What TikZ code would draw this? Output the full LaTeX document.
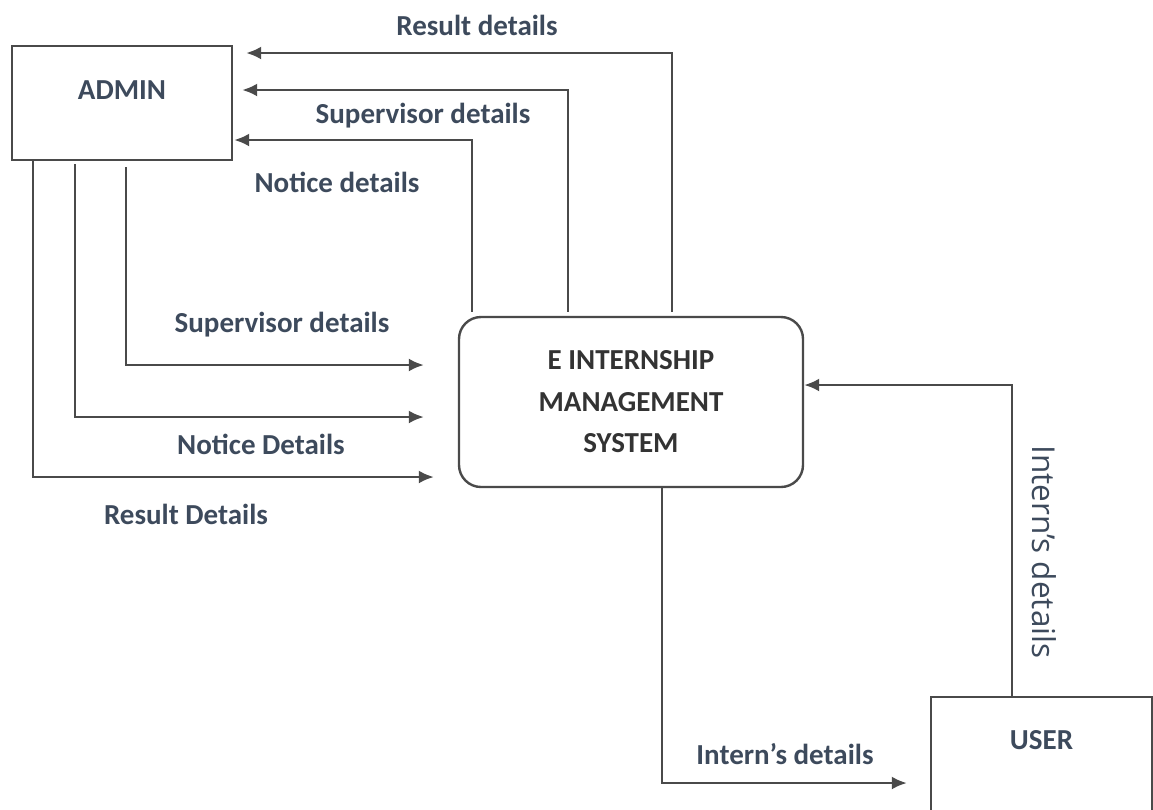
\documentclass[tikz,border=0pt]{standalone}
\usepackage{fontspec}
\setmainfont{Carlito}
\newfontfamily\sidefont{Open Sans}
\usepackage{tikz}
\usetikzlibrary{arrows.meta}
\definecolor{ink}{HTML}{3D4A5C}
\definecolor{wire}{HTML}{4A4A4A}
\tikzstyle{line} = [draw=wire, line width=2.4pt, -{Latex[length=15pt,width=13pt]}]
\tikzstyle{entity} = [rectangle, draw=wire, line width=2.4pt, text=ink, font=\fontsize{29}{30}\selectfont\bfseries]
\tikzstyle{proc} = [rectangle, rounded corners=22pt, draw=wire, line width=2.4pt, minimum width=344pt, minimum height=170pt, align=center, text=black!80, font=\fontsize{29}{41.5}\selectfont\bfseries]
\tikzstyle{flow} = [text=ink, inner sep=0pt, font=\fontsize{29}{30}\selectfont\bfseries]

\begin{document}
\begin{tikzpicture}[x=1pt, y=-1pt]
	\useasboundingbox (0,0) rectangle (1153,809);
	
	\node [entity, minimum width=220pt, minimum height=114pt] (admin) at (122,103) {\raisebox{26pt}{ADMIN}};
	\node [proc] (ems) at (631,402) {E INTERNSHIP\\MANAGEMENT\\SYSTEM};
	\node [entity, minimum width=221pt, minimum height=150pt] (user) at (1041.5,772) {\raisebox{64pt}{USER}};
	
	% admin to system
	\path [line, shorten <=6pt, shorten >=34pt] ([xshift=4pt]admin.south) |- ([yshift=37pt]ems.west);
	\path [line, shorten <=3pt, shorten >=34pt] ([xshift=-47pt]admin.south) |- ([yshift=-15pt]ems.west);
	\path [line, shorten >=24pt] ([xshift=-89pt]admin.south) |- ([yshift=-75pt]ems.west);
	
	% system to admin
	\path [line, shorten <=4pt, shorten >=1pt] ([xshift=-159pt]ems.north) |- ([yshift=-37pt]admin.east);
	\path [line, shorten <=4pt, shorten >=9pt] ([xshift=-63pt]ems.north) |- ([yshift=13pt]admin.east);
	\path [line, shorten <=4pt, shorten >=13pt] ([xshift=41pt]ems.north) |- ([yshift=50pt]admin.east);
	
	% user and system
	\path [line] ([xshift=-29.5pt]user.north) |- ([yshift=17pt]ems.east);
	\path [line, shorten >=23pt] ([xshift=31pt]ems.south) |- ([yshift=-11pt]user.west);
	
	\node [flow] (resup) at (477,25) {Result details};
	\node [flow] (supup) at (423,116) {Supervisor details};
	\node [flow] (notup) at (337,182) {Notice details};
	\node [flow] (supdown) at (282,325) {Supervisor details};
	\node [flow] (notdown) at (261,444) {Notice Details};
	\node [flow] (resdown) at (186,514) {Result Details};
	\node [flow] (intdown) at (785,754) {Intern’s details};
	\node [flow, rotate=-90, font=\sidefont\fontsize{31.5}{34}\selectfont] (intup) at (1044,552) {Intern’s details};
\end{tikzpicture}
\end{document}
